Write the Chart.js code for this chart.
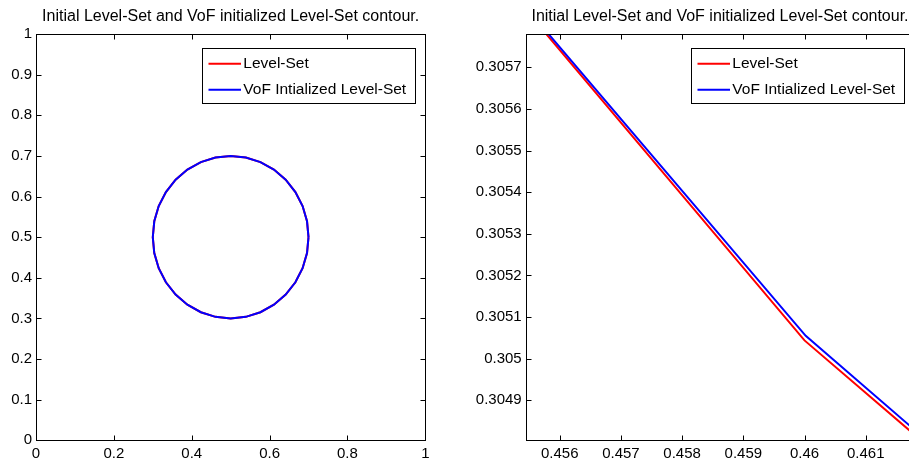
<!DOCTYPE html>
<html><head><meta charset="utf-8">
<script src="https://cdn.jsdelivr.net/npm/chart.js@4/dist/chart.umd.min.js"></script>
<style>
html,body{margin:0;padding:0;background:#fff;overflow:hidden;width:909px;height:462px;position:relative;}
#c1{position:absolute;left:0;top:0;}
#c2{position:absolute;left:450px;top:0;}
</style></head><body>
<canvas id="c1" width="450" height="462"></canvas>
<canvas id="c2" width="489" height="462"></canvas>
<script>
const titleText = 'Initial Level-Set and VoF initialized Level-Set contour.';
const seriesNames = ['Level-Set', 'VoF Intialized Level-Set'];
const seriesColors = ['#ff0000', '#0000ff'];

// Left panel: full contour (both series coincide at this scale)
const circleX = [0.7, 0.6962, 0.6848, 0.6663, 0.6414, 0.6111, 0.5765, 0.5390, 0.5, 0.4610, 0.4235, 0.3889, 0.3586, 0.3337, 0.3152, 0.3038, 0.3, 0.3038, 0.3152, 0.3337, 0.3586, 0.3889, 0.4235, 0.4610, 0.5, 0.5390, 0.5765, 0.6111, 0.6414, 0.6663, 0.6848, 0.6962, 0.7];
const circleY = [0.5, 0.5390, 0.5765, 0.6111, 0.6414, 0.6663, 0.6848, 0.6962, 0.7, 0.6962, 0.6848, 0.6663, 0.6414, 0.6111, 0.5765, 0.5390, 0.5, 0.4610, 0.4235, 0.3889, 0.3586, 0.3337, 0.3152, 0.3038, 0.3, 0.3038, 0.3152, 0.3337, 0.3586, 0.3889, 0.4235, 0.4610, 0.5];
const vofCircleX = circleX;
const vofCircleY = circleY;

const leftXTicks = [0, 0.2, 0.4, 0.6, 0.8, 1];
const leftXLabels = ['0', '0.2', '0.4', '0.6', '0.8', '1'];
const leftYTicks = [0, 0.1, 0.2, 0.3, 0.4, 0.5, 0.6, 0.7, 0.8, 0.9, 1];
const leftYLabels = ['0', '0.1', '0.2', '0.3', '0.4', '0.5', '0.6', '0.7', '0.8', '0.9', '1'];

// Right panel: zoom on the contour near x = 0.46
const zoomLsX = [0.455, 0.46, 0.4625];
const zoomLsY = [0.305916, 0.305044, 0.304729];
const zoomVofX = [0.455, 0.46002, 0.4625];
const zoomVofY = [0.305921, 0.305055, 0.304740];

const rightXTicks = [0.456, 0.457, 0.458, 0.459, 0.46, 0.461];
const rightXLabels = ['0.456', '0.457', '0.458', '0.459', '0.46', '0.461'];
const rightYTicks = [0.3049, 0.305, 0.3051, 0.3052, 0.3053, 0.3054, 0.3055, 0.3056, 0.3057];
const rightYLabels = ['0.3049', '0.305', '0.3051', '0.3052', '0.3053', '0.3054', '0.3055', '0.3056', '0.3057'];

const FONT = "'Liberation Sans', Arial, Helvetica, sans-serif";
Chart.defaults.font.family = FONT;
Chart.defaults.font.size = 15;
Chart.defaults.color = '#000';

function pts(xs, ys) { return xs.map((x, i) => ({ x: x, y: ys[i] })); }

const matlabAxes = {
  id: 'matlabAxes',
  afterDatasetsDraw(chart) {
    const ctx = chart.ctx, ca = chart.chartArea;
    const xs = chart.scales.x, ys = chart.scales.y;
    const L = Math.round(ca.left) + 0.5, R = Math.round(ca.right) + 0.5;
    const T = Math.round(ca.top) + 0.5, B = Math.round(ca.bottom) + 0.5;
    const tl = 5;
    ctx.save();
    ctx.strokeStyle = '#000';
    ctx.lineWidth = 1;
    ctx.beginPath();
    xs.ticks.forEach(t => {
      const p = Math.round(xs.getPixelForValue(t.value)) + 0.5;
      ctx.moveTo(p, B); ctx.lineTo(p, B - tl);
      ctx.moveTo(p, T); ctx.lineTo(p, T + tl);
    });
    ys.ticks.forEach(t => {
      const p = Math.round(ys.getPixelForValue(t.value)) + 0.5;
      ctx.moveTo(L, p); ctx.lineTo(L + tl, p);
      ctx.moveTo(R, p); ctx.lineTo(R - tl, p);
    });
    ctx.stroke();
    ctx.strokeRect(L, T, R - L, B - T);

    // legend box (northeast, inside axes)
    const bx = Math.round(ca.left + 165.5) + 0.5;
    const by = Math.round(ca.top + 14) + 0.5;
    const br = Math.round(ca.right - 10.5) + 0.5;
    const bh = 55;
    ctx.fillStyle = '#fff';
    ctx.fillRect(bx, by, br - bx, bh);
    ctx.strokeRect(bx, by, br - bx, bh);
    ctx.font = '15.5px ' + FONT;
    ctx.textBaseline = 'middle';
    ctx.textAlign = 'left';
    chart.data.datasets.forEach((ds, i) => {
      const y = by + 15.3 + i * 26;
      ctx.strokeStyle = ds.borderColor;
      ctx.lineWidth = 2;
      ctx.beginPath();
      ctx.moveTo(bx + 6, y); ctx.lineTo(bx + 38.5, y);
      ctx.stroke();
      ctx.fillStyle = '#000';
      ctx.fillText(ds.label, bx + 40.8, y);
    });
    ctx.restore();
  }
};

function makeChart(id, datasets, xr, yr, xT, xL, yT, yL, yWidth, padRight) {
  return new Chart(document.getElementById(id), {
    type: 'scatter',
    data: { datasets: datasets },
    options: {
      responsive: false,
      animation: false,
      layout: { padding: { left: 0, right: padRight, top: 0, bottom: 0 } },
      plugins: {
        legend: { display: false },
        tooltip: { enabled: false },
        title: {
          display: true, text: titleText, fullSize: false, color: '#000',
          font: { size: 16, weight: 'normal', family: FONT, lineHeight: 1.2 },
          padding: { top: 7.4, bottom: 7.4 }
        }
      },
      scales: {
        x: {
          type: 'linear', min: xr[0], max: xr[1],
          grid: { display: false, drawTicks: false },
          border: { display: false },
          afterBuildTicks: s => { s.ticks = xT.map(v => ({ value: v })); },
          afterFit: s => { s.height = 21.7; },
          ticks: {
            padding: 5, maxRotation: 0, autoSkip: false, color: '#000',
            callback: (v, i) => xL[i]
          }
        },
        y: {
          type: 'linear', min: yr[0], max: yr[1],
          grid: { display: false, drawTicks: false },
          border: { display: false },
          afterBuildTicks: s => { s.ticks = yT.map(v => ({ value: v })); },
          afterFit: s => { s.width = yWidth; },
          ticks: {
            padding: 4, autoSkip: false, color: '#000',
            callback: (v, i) => yL[i]
          }
        }
      }
    },
    plugins: [matlabAxes]
  });
}

function lineDs(label, color, data, order) {
  return {
    label: label, data: data, showLine: true, borderColor: color, backgroundColor: color,
    borderWidth: 2, pointRadius: 0, tension: 0, fill: false, order: order
  };
}

makeChart('c1',
  [lineDs(seriesNames[0], seriesColors[0], pts(circleX, circleY), 1),
   lineDs(seriesNames[1], seriesColors[1], pts(vofCircleX, vofCircleY), 0)],
  [0, 1], [0, 1], leftXTicks, leftXLabels, leftYTicks, leftYLabels, 36, 24.7);

makeChart('c2',
  [lineDs(seriesNames[0], seriesColors[0], pts(zoomLsX, zoomLsY), 1),
   lineDs(seriesNames[1], seriesColors[1], pts(zoomVofX, zoomVofY), 0)],
  [0.4554444, 0.4617941], [0.304804, 0.30578], rightXTicks, rightXLabels, rightYTicks, rightYLabels, 75.7, 24.7);
</script>
</body></html>
